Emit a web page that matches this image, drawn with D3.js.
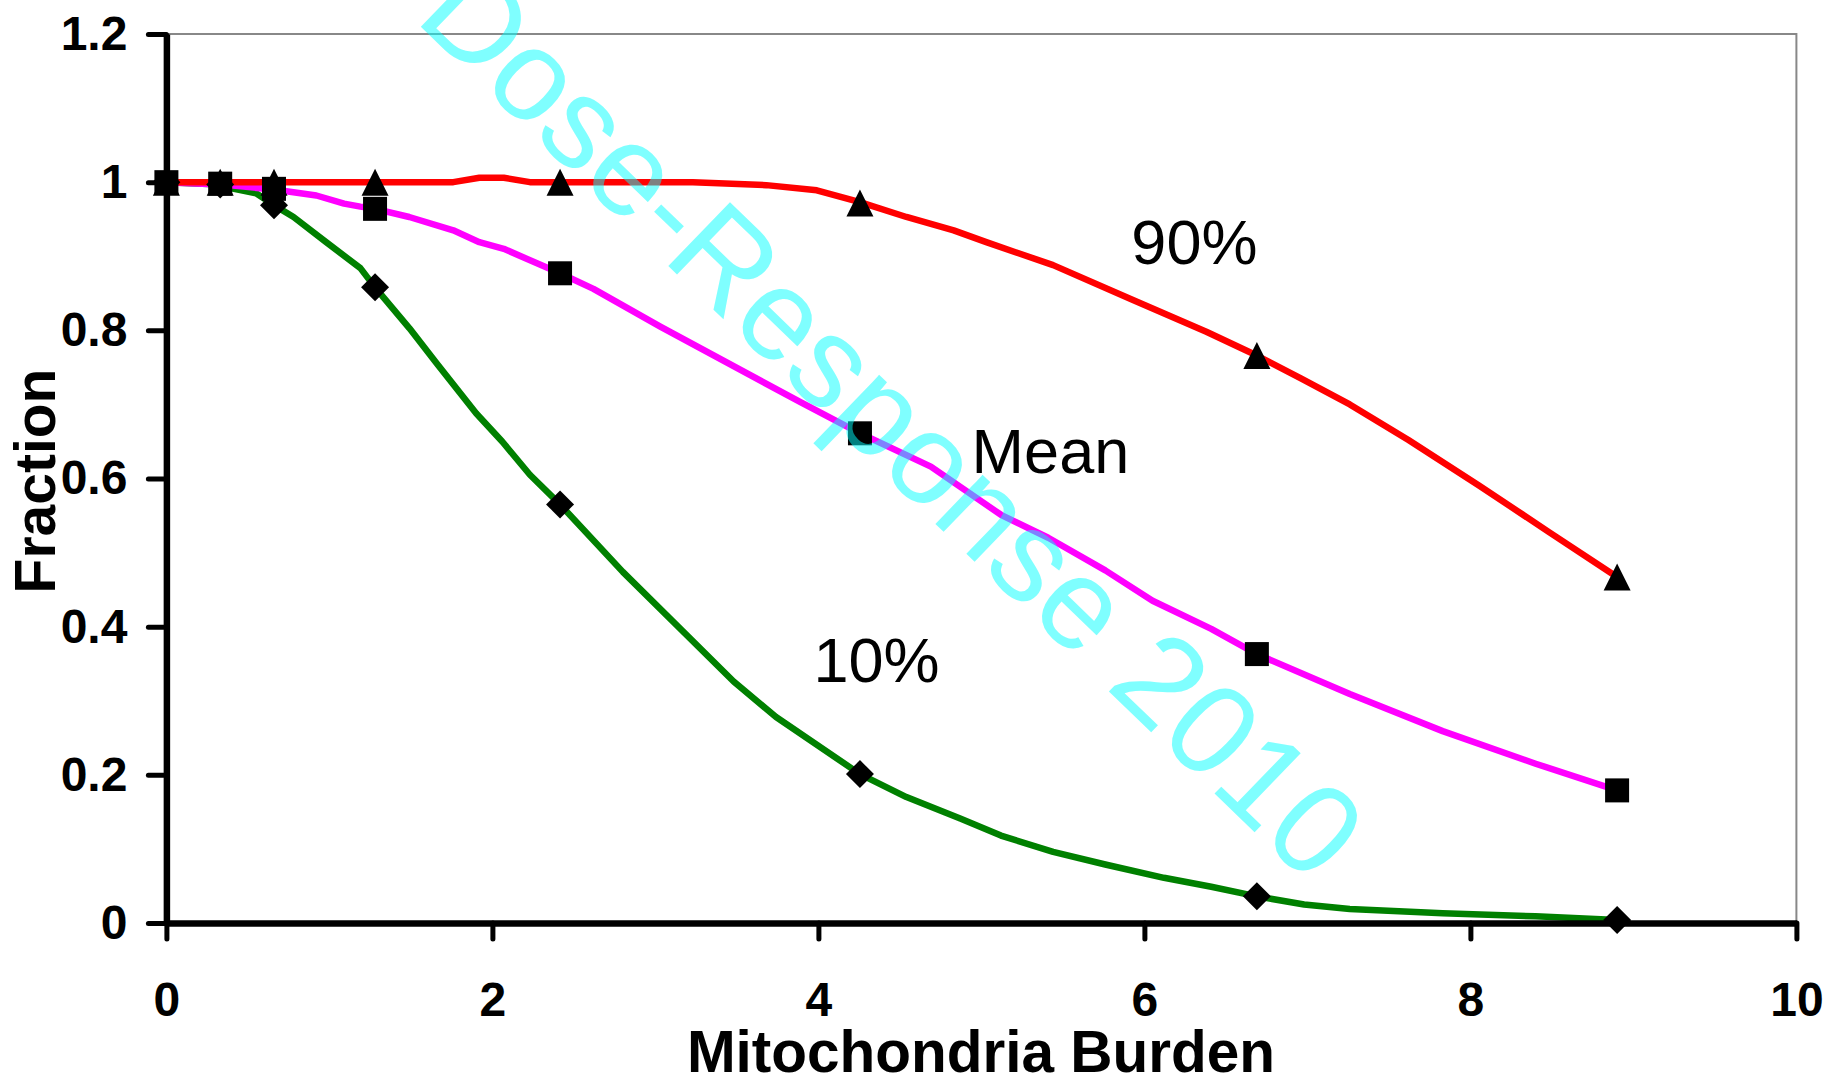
<!DOCTYPE html>
<html>
<head>
<meta charset="utf-8">
<script src="https://cdn.jsdelivr.net/npm/d3@7"></script>
<style>
  body { margin: 0; background: #fff; }
  svg { display: block; font-family: "Liberation Sans", Arial, sans-serif; }
</style>
</head>
<body>
<div id="plot"></div>
<script>
// marker points (same x for every series)
const markerX = [0, 0.33, 0.66, 1.28, 2.415, 4.255, 6.69, 8.9];
const p90Markers = [1, 1, 1, 1, 1, 0.972, 0.766, 0.467];
const meanMarkers = [1, 0.998, 0.991, 0.964, 0.877, 0.661, 0.363, 0.179];
const p10Markers = [1, 0.997, 0.969, 0.858, 0.565, 0.201, 0.036, 0.004];

// curve samples
const p90X = [0, 0.33, 0.66, 1.28, 1.76, 1.92, 2.07, 2.23, 2.415, 3.23, 3.68, 3.99, 4.255, 4.54, 4.83, 5.03, 5.44, 5.93, 6.38, 6.69, 6.96, 7.26, 7.62, 8.05, 8.48, 8.9];
const p90Y = [1, 1, 1, 1, 1, 1.006, 1.006, 1, 1, 1, 0.996, 0.989, 0.973, 0.953, 0.935, 0.919, 0.888, 0.841, 0.798, 0.766, 0.735, 0.700, 0.652, 0.591, 0.528, 0.467];

const meanX = [0, 0.33, 0.66, 0.92, 1.09, 1.19, 1.28, 1.49, 1.76, 1.92, 2.07, 2.415, 2.62, 3.03, 3.89, 4.255, 4.69, 5.12, 5.41, 5.76, 6.05, 6.41, 6.69, 7.26, 7.83, 8.40, 8.9];
const meanY = [1, 0.997, 0.99, 0.982, 0.971, 0.967, 0.964, 0.953, 0.935, 0.919, 0.910, 0.877, 0.856, 0.805, 0.703, 0.661, 0.616, 0.551, 0.520, 0.476, 0.435, 0.397, 0.363, 0.309, 0.259, 0.215, 0.179];

const p10X = [0, 0.33, 0.37, 0.55, 0.66, 0.78, 0.98, 1.19, 1.28, 1.49, 1.66, 1.90, 2.06, 2.23, 2.415, 2.80, 3.48, 3.74, 4.255, 4.54, 4.87, 5.12, 5.44, 5.76, 6.12, 6.41, 6.69, 6.98, 7.26, 7.83, 8.40, 8.9];
const p10Y = [1, 0.997, 0.993, 0.985, 0.969, 0.953, 0.919, 0.884, 0.858, 0.803, 0.755, 0.688, 0.650, 0.605, 0.565, 0.474, 0.326, 0.278, 0.201, 0.170, 0.141, 0.118, 0.096, 0.079, 0.061, 0.049, 0.036, 0.025, 0.019, 0.013, 0.009, 0.004];

const xTicks = [0, 2, 4, 6, 8, 10];
const yTicks = [0, 0.2, 0.4, 0.6, 0.8, 1, 1.2];

const labels = [
  { text: "90%", x: 5.92, y: 0.889 },
  { text: "Mean", x: 4.94, y: 0.607 },
  { text: "10%", x: 3.97, y: 0.325 }
];

const W = 1825, H = 1081;
const plotL = 166.4, plotR = 1796.4, plotT = 34, plotB = 923;

const svg = d3.select("#plot").append("svg")
  .attr("width", W)
  .attr("height", H);

svg.append("rect").attr("width", W).attr("height", H).attr("fill", "#fff");

const x = d3.scaleLinear().domain([0, 10]).range([plotL, plotR]);
const y = d3.scaleLinear().domain([0, 1.2]).range([plotB, plotT]);

// plot area frame (gray top/right)
svg.append("path")
  .attr("d", `M${plotL},${plotT}H${plotR}V${plotB}`)
  .attr("fill", "none")
  .attr("stroke", "#888")
  .attr("stroke-width", 2);

// series lines
const line = d3.line().x(d => x(d[0])).y(d => y(d[1]));
const series = [
  { xs: p10X, ys: p10Y, color: "#008000" },
  { xs: meanX, ys: meanY, color: "#ff00ff" },
  { xs: p90X, ys: p90Y, color: "#ff0000" }
];
series.forEach(s => {
  svg.append("path")
    .datum(s.xs.map((v, i) => [v, s.ys[i]]))
    .attr("d", line)
    .attr("fill", "none")
    .attr("stroke", s.color)
    .attr("stroke-width", 6.5)
    .attr("stroke-linejoin", "round");
});

// axes
const yAxis = svg.append("g")
  .attr("transform", `translate(${plotL},0)`)
  .call(d3.axisLeft(y).tickValues(yTicks).tickSize(18).tickSizeOuter(0).tickPadding(21)
    .tickFormat(d => d3.format("~g")(d)));
const xAxis = svg.append("g")
  .attr("transform", `translate(0,${plotB})`)
  .call(d3.axisBottom(x).tickValues(xTicks).tickSize(16).tickSizeOuter(0).tickPadding(43));

[yAxis, xAxis].forEach(g => {
  g.select(".domain").attr("stroke", "#000").attr("stroke-width", 6.5);
  g.selectAll(".tick line").attr("stroke", "#000").attr("stroke-width", 5).attr("stroke-linecap", "round");
  g.selectAll(".tick text")
    .attr("fill", "#000")
    .style("font-family", "'Liberation Sans', Arial, sans-serif")
    .style("font-weight", "bold")
    .style("font-size", "48px");
});

// markers
const g = svg.append("g");
markerX.forEach((v, i) => {
  g.append("rect")
    .attr("x", x(v) - 12).attr("y", y(meanMarkers[i]) - 12)
    .attr("width", 24).attr("height", 24).attr("fill", "#000");
});
markerX.forEach((v, i) => {
  const cx = x(v), cy = y(p10Markers[i]);
  g.append("path")
    .attr("d", `M${cx},${cy - 14}L${cx + 14},${cy}L${cx},${cy + 14}L${cx - 14},${cy}Z`)
    .attr("fill", "#000");
});
markerX.forEach((v, i) => {
  const cx = x(v), cy = y(p90Markers[i]);
  g.append("path")
    .attr("d", `M${cx},${cy - 13.5}L${cx + 13.5},${cy + 13.5}L${cx - 13.5},${cy + 13.5}Z`)
    .attr("fill", "#000");
});

// series labels
labels.forEach(l => {
  svg.append("text")
    .attr("x", x(l.x)).attr("y", y(l.y))
    .attr("font-size", 63)
    .attr("fill", "#000")
    .text(l.text);
});

// axis titles
svg.append("text")
  .attr("x", 981).attr("y", 1072)
  .attr("text-anchor", "middle")
  .attr("font-size", 58.5).attr("font-weight", "bold")
  .text("Mitochondria Burden");

svg.append("text")
  .attr("transform", "translate(55,481) rotate(-90)")
  .attr("text-anchor", "middle")
  .attr("font-size", 57).attr("font-weight", "bold")
  .text("Fraction");

// watermark
svg.append("text")
  .attr("transform", "translate(862,453) rotate(44)")
  .attr("text-anchor", "middle")
  .attr("font-size", 129)
  .attr("fill", "#00ffff")
  .attr("fill-opacity", 0.5)
  .text("Dose-Response 2010");
</script>
</body>
</html>
